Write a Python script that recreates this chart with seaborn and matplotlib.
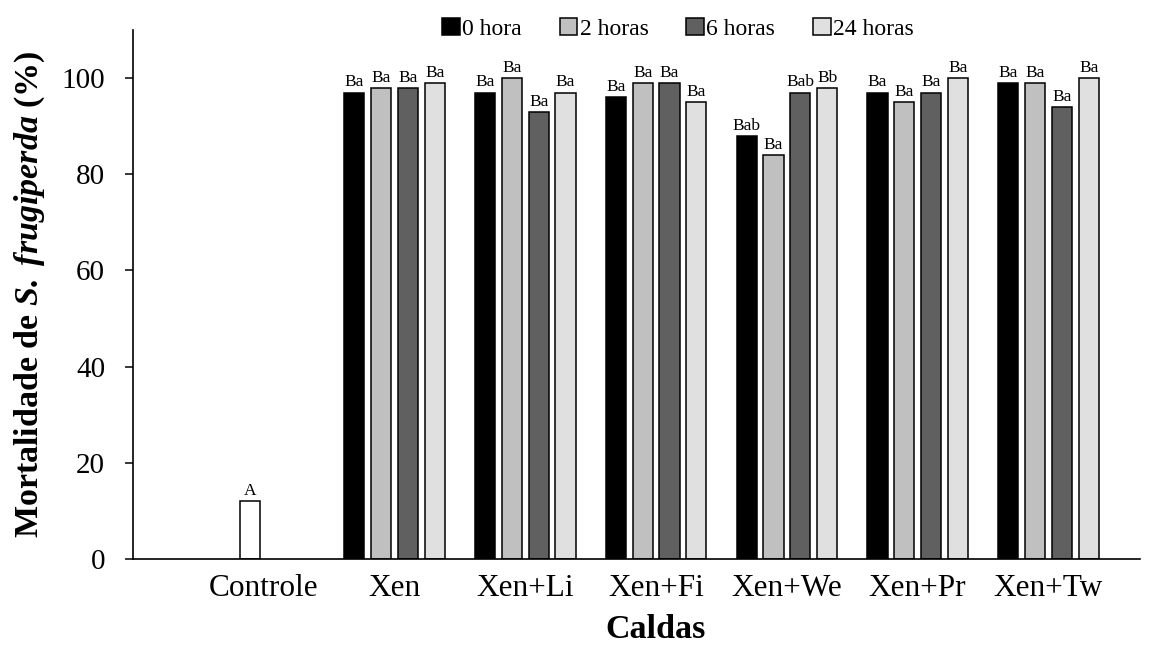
import numpy as np
import pandas as pd
import matplotlib
matplotlib.use("Agg")
import matplotlib.pyplot as plt
import seaborn as sns

categories = ['Controle', 'Xen', 'Xen+Li', 'Xen+Fi', 'Xen+We', 'Xen+Pr', 'Xen+Tw']
series = ['0 hora', '2 horas', '6 horas', '24 horas']
h0 = [np.nan, 97, 97, 96, 88, 97, 99]
h2 = [12, 98, 100, 99, 84, 95, 99]
h6 = [np.nan, 98, 93, 99, 97, 97, 94]
h24 = [np.nan, 99, 97, 95, 98, 100, 100]
l0 = ['', 'Ba', 'Ba', 'Ba', 'Bab', 'Ba', 'Ba']
l2 = ['A', 'Ba', 'Ba', 'Ba', 'Ba', 'Ba', 'Ba']
l6 = ['', 'Ba', 'Ba', 'Ba', 'Bab', 'Ba', 'Ba']
l24 = ['', 'Ba', 'Ba', 'Ba', 'Bb', 'Ba', 'Ba']
colors = ['#000000', '#c0c0c0', '#606060', '#e0e0e0']
yticks = [0, 20, 40, 60, 80, 100]

values = [h0, h2, h6, h24]
letters = [l0, l2, l6, l24]
rows = []
for s, vals in zip(series, values):
    for c, v in zip(categories, vals):
        if not np.isnan(v):
            rows.append({'Calda': c, 'Tempo': s, 'Mortalidade': v})
df = pd.DataFrame(rows)

sns.set_theme(style='white')
plt.rcParams['font.family'] = ['Liberation Serif', 'DejaVu Serif']
plt.rcParams['mathtext.fontset'] = 'custom'
plt.rcParams['mathtext.rm'] = 'Liberation Serif'
plt.rcParams['mathtext.bf'] = 'Liberation Serif:bold'
plt.rcParams['mathtext.it'] = 'Liberation Serif:italic'
plt.rcParams['mathtext.bfit'] = 'Liberation Serif:bold:italic'
for k in ['text.color', 'axes.labelcolor', 'xtick.color', 'ytick.color', 'axes.edgecolor']:
    plt.rcParams[k] = 'black'

fig = plt.figure(figsize=(11.68, 6.49), dpi=100)
ax = fig.add_axes([133/1168, 1-559/649, (1140-133)/1168, (559-30)/649])

sns.barplot(data=df, x='Calda', y='Mortalidade', hue='Tempo', order=categories,
            hue_order=series, palette=colors, width=0.82, gap=0.25,
            edgecolor='black', linewidth=1.1, ax=ax, legend=True, errorbar=None)

for hi, cont in enumerate(ax.containers):
    for p in cont.patches:
        h = p.get_height()
        if np.isnan(h) or h == 0:
            continue
        xc = p.get_x() + p.get_width() / 2
        ci = int(round(xc))
        if ci == 0:
            p.set_facecolor('white')
        lab = letters[hi][ci]
        ax.annotate(lab, (xc, h), xytext=(0, 1.5), textcoords='offset points',
                    ha='center', va='bottom', fontsize=12.5, color='black')

ax.set_xlim(-1.0, 6.7)
ax.set_ylim(0, 110)
ax.set_yticks(yticks)
ax.tick_params(axis='y', which='both', left=True, length=6, width=1.1, pad=14, labelsize=21,
               color='black', labelcolor='black')
ax.tick_params(axis='x', length=0, pad=11, labelsize=22.5, labelcolor='black')
for s in ['top', 'right']:
    ax.spines[s].set_visible(False)
for s in ['left', 'bottom']:
    ax.spines[s].set_color('black')
    ax.spines[s].set_linewidth(1.2)

ax.set_xlabel('Caldas', fontsize=24.5, fontweight='bold', color='black')
ax.xaxis.set_label_coords(0.519, -0.104)
ax.set_ylabel(r'Mortalidade de $\mathbfit{S.\ frugiperda}$ (%)', fontsize=24.5,
              fontweight='bold', color='black')
ax.yaxis.set_label_coords(-0.085, 0.5)

handles, labels = ax.get_legend_handles_labels()
ax.get_legend().remove()
fig.legend(handles, labels, loc='center', bbox_to_anchor=(678/1168, 1-29/649), ncol=4,
           frameon=False, fontsize=17, handlelength=0.75, handleheight=0.75,
           handletextpad=0.1, columnspacing=1.6, borderaxespad=0, labelcolor='black')

fig.savefig('out.png', dpi=100, facecolor='white')
